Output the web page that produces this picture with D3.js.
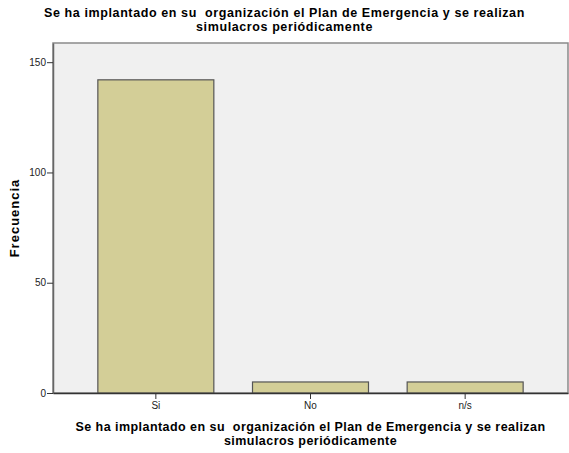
<!DOCTYPE html>
<html>
<head>
<meta charset="utf-8">
<script src="https://cdn.jsdelivr.net/npm/d3@7"></script>
<style>
  body { margin: 0; background: #fff; }
  text { font-family: "Liberation Sans", Arial, sans-serif; white-space: pre; }
</style>
</head>
<body>
<div id="chart"></div>
<script>
// chart data
var categories = ["Si", "No", "n/s"];
var counts = [142, 5, 5];
var yTicks = [0, 50, 100, 150];
var titleLines = ["Se ha implantado en su  organización el Plan de Emergencia y se realizan", "simulacros periódicamente"];
var yLabel = "Frecuencia";

var W = 569, H = 453;
var margin = {top: 43, right: 1, bottom: 60, left: 53};
var width = W - margin.left - margin.right,
    height = H - margin.top - margin.bottom;

var svg = d3.select("#chart").append("svg")
    .attr("width", W)
    .attr("height", H);

// title
svg.append("text")
    .attr("x", W / 2)
    .attr("y", 17)
    .style("text-anchor", "middle")
    .style("font-weight", "bold")
    .style("font-size", "12.5px")
    .style("letter-spacing", "0.6px")
    .selectAll("tspan")
    .data(titleLines)
    .enter().append("tspan")
    .attr("x", W / 2)
    .attr("dy", function(d, i) { return i ? 14 : 0; })
    .text(function(d) { return d; });

var g = svg.append("g")
    .attr("transform", "translate(" + margin.left + "," + margin.top + ")");

var xScale = d3.scaleBand().domain(categories).range([0, width])
    .paddingInner(0.25).paddingOuter(0.29);
var yScale = d3.scaleLinear().domain([0, 158.7]).range([height, 0]);

// plot background
g.append("rect")
    .attr("width", width)
    .attr("height", height)
    .attr("fill", "#f0f0f0")
    .attr("stroke", "#8a8a8a")
    .attr("stroke-width", 1.5);

// bars
g.selectAll(".bar")
    .data(counts)
    .enter().append("rect")
    .attr("class", "bar")
    .attr("x", function(d, i) { return xScale(categories[i]); })
    .attr("y", function(d) { return yScale(d); })
    .attr("width", xScale.bandwidth())
    .attr("height", function(d) { return height - yScale(d); })
    .attr("fill", "#d3ce97")
    .attr("stroke", "#555")
    .attr("stroke-width", 1.2);

// y axis
var yAxis = g.append("g")
    .call(d3.axisLeft(yScale).tickValues(yTicks).tickSize(6).tickSizeOuter(0));
yAxis.select(".domain").attr("stroke", "#666").attr("stroke-width", 1.5);
yAxis.selectAll(".tick line").attr("stroke", "#333");
yAxis.selectAll(".tick text")
    .attr("x", -7)
    .style("font-size", "10px")
    .style("font-family", "Liberation Sans, Arial, sans-serif")
    .attr("fill", "#222");

// x axis
var xAxis = g.append("g")
    .attr("transform", "translate(0," + height + ")")
    .call(d3.axisBottom(xScale).tickSize(6).tickSizeOuter(0));
xAxis.select(".domain").attr("stroke", "#333").attr("stroke-width", 1.5);
xAxis.selectAll(".tick line").attr("stroke", "#333");
xAxis.selectAll(".tick text")
    .attr("y", 9)
    .style("font-size", "10px")
    .style("font-family", "Liberation Sans, Arial, sans-serif")
    .attr("fill", "#222");

// x axis title
svg.append("text")
    .attr("x", margin.left + width / 2)
    .attr("y", 431)
    .style("text-anchor", "middle")
    .style("font-weight", "bold")
    .style("font-size", "12.5px")
    .style("letter-spacing", "0.45px")
    .selectAll("tspan")
    .data(titleLines)
    .enter().append("tspan")
    .attr("x", margin.left + width / 2)
    .attr("dy", function(d, i) { return i ? 14 : 0; })
    .text(function(d) { return d; });

// y axis title
svg.append("text")
    .attr("transform", "rotate(-90)")
    .attr("x", -(margin.top + height / 2))
    .attr("y", 19)
    .style("text-anchor", "middle")
    .style("font-weight", "bold")
    .style("font-size", "13px")
    .style("letter-spacing", "1px")
    .text(yLabel);
</script>
</body>
</html>
